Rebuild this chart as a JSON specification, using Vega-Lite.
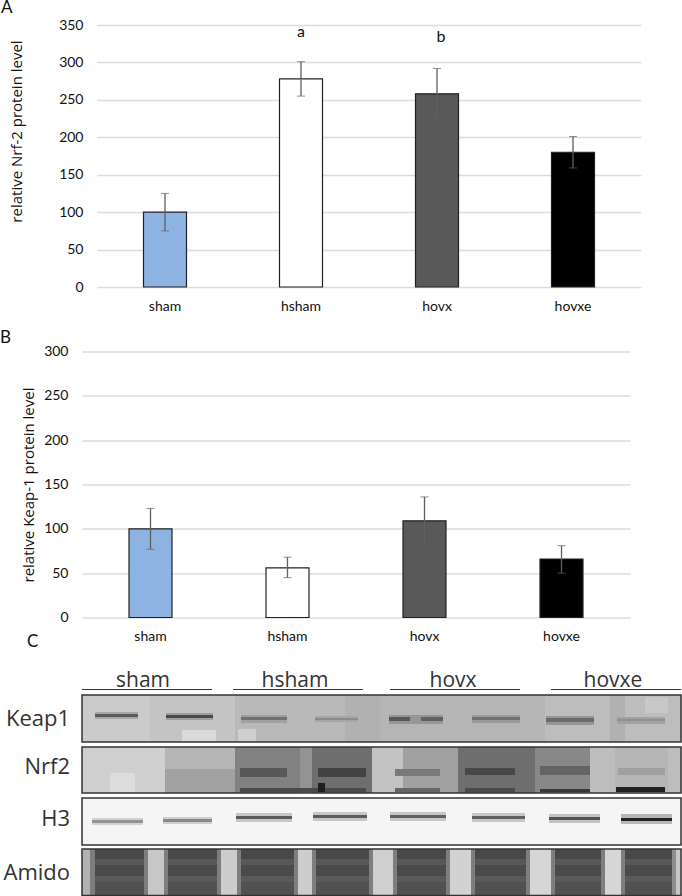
{
"$schema":"https://vega.github.io/schema/vega-lite/v6.json",
"padding":{"left":0,"top":-1,"right":0,"bottom":0},
"background":"white",
"spacing":15.5,
"config":{"view":{"stroke":null},"font":"Lato",
"axisX":{"domain":false,"ticks":false,"grid":false,"labelAngle":0,"labelPadding":12,"labelFont":"Lato","labelFontSize":14,"labelColor":"#111","title":null},
"axisY":{"domain":false,"ticks":false,"grid":true,"gridColor":"#dcdcdc","gridWidth":1.5,"labelPadding":14,"labelFont":"Lato","labelFontSize":14,"labelColor":"#111","titleFont":"Open Sans","titleFontSize":15,"titleFontWeight":"normal","titleColor":"#111"},
"title":{"font":"Lato","fontSize":17,"fontWeight":"normal","color":"#111","anchor":"start","frame":"group"}},
"datasets":{
"nrf2":[{"group":"sham","value":100,"lo":75,"hi":125},{"group":"hsham","value":278,"lo":255,"hi":301},{"group":"hovx","value":258,"lo":224,"hi":292},{"group":"hovxe","value":180,"lo":159,"hi":201}],
"keap1":[{"group":"sham","value":100,"lo":77,"hi":123},{"group":"hsham","value":56,"lo":45,"hi":68},{"group":"hovx","value":109,"lo":82,"hi":136},{"group":"hovxe","value":66,"lo":50,"hi":81}],
"strips":[{"name":"Keap1","top":694,"bottom":741,"mid":718},{"name":"Nrf2","top":746,"bottom":792,"mid":766},{"name":"H3","top":797,"bottom":844,"mid":818},{"name":"Amido","top":848,"bottom":894.5,"mid":872}],
"groups":[{"name":"sham","from":82,"to":212,"mid":143},{"name":"hsham","from":233,"to":363,"mid":295},{"name":"hovx","from":390,"to":520,"mid":453},{"name":"hovxe","from":551,"to":681,"mid":613}],
"blot":[
{"x":82,"x2":681,"y":694,"y2":741,"g":195},
{"x":82,"x2":150,"y":694,"y2":741,"g":208},
{"x":150,"x2":235,"y":694,"y2":741,"g":202},
{"x":235,"x2":345,"y":694,"y2":741,"g":192},
{"x":345,"x2":380,"y":694,"y2":741,"g":184},
{"x":380,"x2":545,"y":694,"y2":741,"g":188},
{"x":610,"x2":625,"y":694,"y2":741,"g":184},
{"x":645,"x2":668,"y":696,"y2":712,"g":206},
{"x":182,"x2":216,"y":729,"y2":740,"g":222},
{"x":238,"x2":256,"y":728,"y2":740,"g":212},
{"x":95,"x2":138,"y":711,"y2":718,"g":175},
{"x":166,"x2":213,"y":712,"y2":719,"g":165},
{"x":241,"x2":287,"y":714,"y2":722,"g":168},
{"x":315,"x2":358,"y":715,"y2":721,"g":174},
{"x":389,"x2":443,"y":714,"y2":723,"g":158},
{"x":472,"x2":520,"y":714,"y2":722,"g":162},
{"x":546,"x2":594,"y":715,"y2":724,"g":158},
{"x":617,"x2":665,"y":716,"y2":723,"g":170},
{"x":95,"x2":138,"y":713,"y2":716,"g":100},
{"x":166,"x2":213,"y":714,"y2":717,"g":80},
{"x":241,"x2":287,"y":716,"y2":719,"g":120},
{"x":315,"x2":358,"y":717,"y2":719,"g":148},
{"x":389,"x2":410,"y":716,"y2":720,"g":95},
{"x":421,"x2":443,"y":716,"y2":720,"g":105},
{"x":472,"x2":520,"y":716,"y2":719,"g":120},
{"x":546,"x2":594,"y":717,"y2":721,"g":115},
{"x":617,"x2":665,"y":718,"y2":720,"g":152},
{"x":82,"x2":681,"y":746,"y2":792,"g":195},
{"x":82,"x2":165,"y":746,"y2":792,"g":212},
{"x":165,"x2":235,"y":746,"y2":768,"g":188},
{"x":165,"x2":235,"y":768,"y2":792,"g":170},
{"x":110,"x2":135,"y":772,"y2":791,"g":224},
{"x":235,"x2":300,"y":746,"y2":792,"g":138},
{"x":300,"x2":312,"y":746,"y2":792,"g":155},
{"x":312,"x2":372,"y":746,"y2":792,"g":118},
{"x":372,"x2":403,"y":746,"y2":792,"g":200},
{"x":403,"x2":458,"y":746,"y2":792,"g":168},
{"x":458,"x2":535,"y":746,"y2":792,"g":118},
{"x":535,"x2":590,"y":746,"y2":792,"g":145},
{"x":590,"x2":615,"y":746,"y2":792,"g":196},
{"x":615,"x2":668,"y":746,"y2":792,"g":188},
{"x":240,"x2":287,"y":767,"y2":776,"g":95},
{"x":318,"x2":366,"y":767,"y2":776,"g":72},
{"x":395,"x2":440,"y":768,"y2":775,"g":130},
{"x":465,"x2":515,"y":767,"y2":774,"g":78},
{"x":540,"x2":590,"y":765,"y2":774,"g":108},
{"x":618,"x2":665,"y":767,"y2":774,"g":168},
{"x":240,"x2":366,"y":787,"y2":791,"g":80},
{"x":318,"x2":325,"y":782,"y2":791,"g":30},
{"x":395,"x2":440,"y":787,"y2":791,"g":110},
{"x":465,"x2":515,"y":787,"y2":791,"g":80},
{"x":540,"x2":590,"y":788,"y2":791,"g":60},
{"x":616,"x2":665,"y":786,"y2":791,"g":32},
{"x":82,"x2":681,"y":797,"y2":844,"g":246},
{"x":92,"x2":143,"y":817,"y2":824,"g":215},
{"x":163,"x2":212,"y":816,"y2":823,"g":212},
{"x":236,"x2":292,"y":812,"y2":821,"g":205},
{"x":313,"x2":367,"y":811,"y2":820,"g":205},
{"x":390,"x2":446,"y":811,"y2":820,"g":205},
{"x":472,"x2":525,"y":812,"y2":821,"g":205},
{"x":549,"x2":600,"y":813,"y2":822,"g":200},
{"x":621,"x2":672,"y":813,"y2":823,"g":190},
{"x":92,"x2":143,"y":819,"y2":822,"g":155},
{"x":163,"x2":212,"y":818,"y2":821,"g":145},
{"x":236,"x2":292,"y":815,"y2":818,"g":100},
{"x":313,"x2":367,"y":814,"y2":817,"g":100},
{"x":390,"x2":446,"y":814,"y2":817,"g":105},
{"x":472,"x2":525,"y":815,"y2":818,"g":105},
{"x":549,"x2":600,"y":816,"y2":819,"g":90},
{"x":621,"x2":672,"y":817,"y2":820,"g":35},
{"x":82,"x2":681,"y":848,"y2":858,"g":78},
{"x":82,"x2":681,"y":858,"y2":864,"g":95},
{"x":82,"x2":681,"y":864,"y2":875,"g":80},
{"x":82,"x2":681,"y":875,"y2":881,"g":98},
{"x":82,"x2":681,"y":881,"y2":894.5,"g":88},
{"x":82,"x2":95,"y":848,"y2":894.5,"g":135},
{"x":144,"x2":168,"y":848,"y2":894.5,"g":135},
{"x":217,"x2":241,"y":848,"y2":894.5,"g":135},
{"x":294,"x2":316,"y":848,"y2":894.5,"g":135},
{"x":369,"x2":397,"y":848,"y2":894.5,"g":135},
{"x":446,"x2":475,"y":848,"y2":894.5,"g":135},
{"x":526,"x2":555,"y":848,"y2":894.5,"g":135},
{"x":601,"x2":625,"y":848,"y2":894.5,"g":135},
{"x":672,"x2":681,"y":848,"y2":894.5,"g":150},
{"x":82,"x2":90,"y":848,"y2":894.5,"g":185},
{"x":148,"x2":164,"y":848,"y2":894.5,"g":205},
{"x":221,"x2":237,"y":848,"y2":894.5,"g":210},
{"x":298,"x2":312,"y":848,"y2":894.5,"g":210},
{"x":373,"x2":393,"y":848,"y2":894.5,"g":212},
{"x":450,"x2":471,"y":848,"y2":894.5,"g":215},
{"x":530,"x2":551,"y":848,"y2":894.5,"g":218},
{"x":605,"x2":621,"y":848,"y2":894.5,"g":218},
{"x":676,"x2":681,"y":848,"y2":894.5,"g":205}
]},
"vconcat":[
{"bounds":"flush","spacing":14,"hconcat":[
{"width":1,"height":262,"data":{"values":[]},"mark":"point"},
{"width":544,"height":262,
"title":{"text":"A","dx":-96,"offset":1},
"data":{"name":"nrf2"},
"layer":[
{"mark":{"type":"bar","width":43,"stroke":"#222","strokeWidth":1.2},
"encoding":{"x":{"field":"group","type":"nominal","sort":["sham","hsham","hovx","hovxe"],"scale":{"paddingInner":0,"paddingOuter":0}},
"y":{"field":"value","type":"quantitative","scale":{"domain":[0,350]},"axis":{"values":[0,50,100,150,200,250,300,350],"labelOverlap":false,"title":"relative Nrf-2 protein level","titleX":-73,"titleY":106}},
"color":{"field":"group","type":"nominal","legend":null,"scale":{"domain":["sham","hsham","hovx","hovxe"],"range":["#8db3e2","#ffffff","#595959","#000000"]}}}},
{"mark":{"type":"rule","color":"#5f5f5f","strokeWidth":1.3},
"encoding":{"x":{"field":"group","type":"nominal","sort":["sham","hsham","hovx","hovxe"]},"y":{"field":"lo","type":"quantitative","axis":{"values":[0,50,100,150,200,250,300,350],"labelOverlap":false,"title":"relative Nrf-2 protein level","titleX":-73,"titleY":106}},"y2":{"field":"hi"}}},
{"mark":{"type":"tick","color":"#5f5f5f","strokeWidth":1.3,"size":8},
"encoding":{"x":{"field":"group","type":"nominal","sort":["sham","hsham","hovx","hovxe"]},"y":{"field":"lo","type":"quantitative","axis":{"values":[0,50,100,150,200,250,300,350],"labelOverlap":false,"title":"relative Nrf-2 protein level","titleX":-73,"titleY":106}}}},
{"mark":{"type":"tick","color":"#5f5f5f","strokeWidth":1.3,"size":8},
"encoding":{"x":{"field":"group","type":"nominal","sort":["sham","hsham","hovx","hovxe"]},"y":{"field":"hi","type":"quantitative","axis":{"values":[0,50,100,150,200,250,300,350],"labelOverlap":false,"title":"relative Nrf-2 protein level","titleX":-73,"titleY":106}}}},
{"data":{"values":[{"group":"hsham","label":"a","pos":341}]},"mark":{"type":"text","font":"Lato","fontSize":16,"color":"#111"},
"encoding":{"x":{"field":"group","type":"nominal","sort":["sham","hsham","hovx","hovxe"]},"y":{"field":"pos","type":"quantitative","axis":{"values":[0,50,100,150,200,250,300,350],"labelOverlap":false,"title":"relative Nrf-2 protein level","titleX":-73,"titleY":106}},"text":{"field":"label"}}},
{"data":{"values":[{"group":"hovx","label":"b","pos":334}]},"mark":{"type":"text","font":"Lato","fontSize":16,"color":"#111","dx":4},
"encoding":{"x":{"field":"group","type":"nominal","sort":["sham","hsham","hovx","hovxe"]},"y":{"field":"pos","type":"quantitative","axis":{"values":[0,50,100,150,200,250,300,350],"labelOverlap":false,"title":"relative Nrf-2 protein level","titleX":-73,"titleY":106}},"text":{"field":"label"}}}
]}
]},
{"bounds":"flush","spacing":63,"vconcat":[
{"width":548,"height":266,
"title":{"text":"B","dx":-82,"offset":-2},
"data":{"name":"keap1"},
"layer":[
{"mark":{"type":"bar","width":43,"stroke":"#222","strokeWidth":1.2},
"encoding":{"x":{"field":"group","type":"nominal","sort":["sham","hsham","hovx","hovxe"],"scale":{"paddingInner":0,"paddingOuter":0}},
"y":{"field":"value","type":"quantitative","scale":{"domain":[0,300]},"axis":{"values":[0,50,100,150,200,250,300],"labelOverlap":false,"title":"relative Keap-1 protein level","titleX":-46,"titleY":133}},
"color":{"field":"group","type":"nominal","legend":null,"scale":{"domain":["sham","hsham","hovx","hovxe"],"range":["#8db3e2","#ffffff","#595959","#000000"]}}}},
{"mark":{"type":"rule","color":"#5f5f5f","strokeWidth":1.3},
"encoding":{"x":{"field":"group","type":"nominal","sort":["sham","hsham","hovx","hovxe"]},"y":{"field":"lo","type":"quantitative","axis":{"values":[0,50,100,150,200,250,300],"labelOverlap":false,"title":"relative Keap-1 protein level","titleX":-46,"titleY":133}},"y2":{"field":"hi"}}},
{"mark":{"type":"tick","color":"#5f5f5f","strokeWidth":1.3,"size":8},
"encoding":{"x":{"field":"group","type":"nominal","sort":["sham","hsham","hovx","hovxe"]},"y":{"field":"lo","type":"quantitative","axis":{"values":[0,50,100,150,200,250,300],"labelOverlap":false,"title":"relative Keap-1 protein level","titleX":-46,"titleY":133}}}},
{"mark":{"type":"tick","color":"#5f5f5f","strokeWidth":1.3,"size":8},
"encoding":{"x":{"field":"group","type":"nominal","sort":["sham","hsham","hovx","hovxe"]},"y":{"field":"hi","type":"quantitative","axis":{"values":[0,50,100,150,200,250,300],"labelOverlap":false,"title":"relative Keap-1 protein level","titleX":-46,"titleY":133}}}}
]},
{"width":599,"height":215.5,
"title":{"text":"C","dx":-55,"offset":19},
"layer":[
{"data":{"name":"blot"},"mark":{"type":"rect"},
"encoding":{"x":{"field":"x","type":"quantitative","scale":{"domain":[82,681]},"axis":null},"x2":{"field":"x2"},
"y":{"field":"y","type":"quantitative","scale":{"domain":[895,679.5]},"axis":null},"y2":{"field":"y2"},
"color":{"field":"g","type":"quantitative","legend":null,"scale":{"domain":[0,255],"range":["#000000","#ffffff"]}}}},
{"data":{"name":"strips"},"mark":{"type":"rect","fillOpacity":0,"stroke":"#333","strokeWidth":1.5},
"encoding":{"x":{"datum":82,"type":"quantitative","scale":{"domain":[82,681]},"axis":null},"x2":{"datum":681},
"y":{"field":"top","type":"quantitative","scale":{"domain":[895,679.5]},"axis":null},"y2":{"field":"bottom"}}},
{"data":{"name":"strips"},"mark":{"type":"text","align":"right","baseline":"middle","font":"Open Sans","fontSize":22,"color":"#333"},
"encoding":{"x":{"datum":70,"type":"quantitative","scale":{"domain":[82,681]},"axis":null},
"y":{"field":"mid","type":"quantitative","scale":{"domain":[895,679.5]},"axis":null},"text":{"field":"name"}}},
{"data":{"name":"groups"},"mark":{"type":"rule","color":"#333","strokeWidth":1.2},
"encoding":{"x":{"field":"from","type":"quantitative","scale":{"domain":[82,681]},"axis":null},"x2":{"field":"to"},
"y":{"datum":688.5,"type":"quantitative","scale":{"domain":[895,679.5]},"axis":null}}},
{"data":{"name":"groups"},"mark":{"type":"text","align":"center","baseline":"alphabetic","font":"Open Sans","fontSize":21,"color":"#333"},
"encoding":{"x":{"field":"mid","type":"quantitative","scale":{"domain":[82,681]},"axis":null},
"y":{"datum":686,"type":"quantitative","scale":{"domain":[895,679.5]},"axis":null},"text":{"field":"name"}}}
]}
]}
]}
